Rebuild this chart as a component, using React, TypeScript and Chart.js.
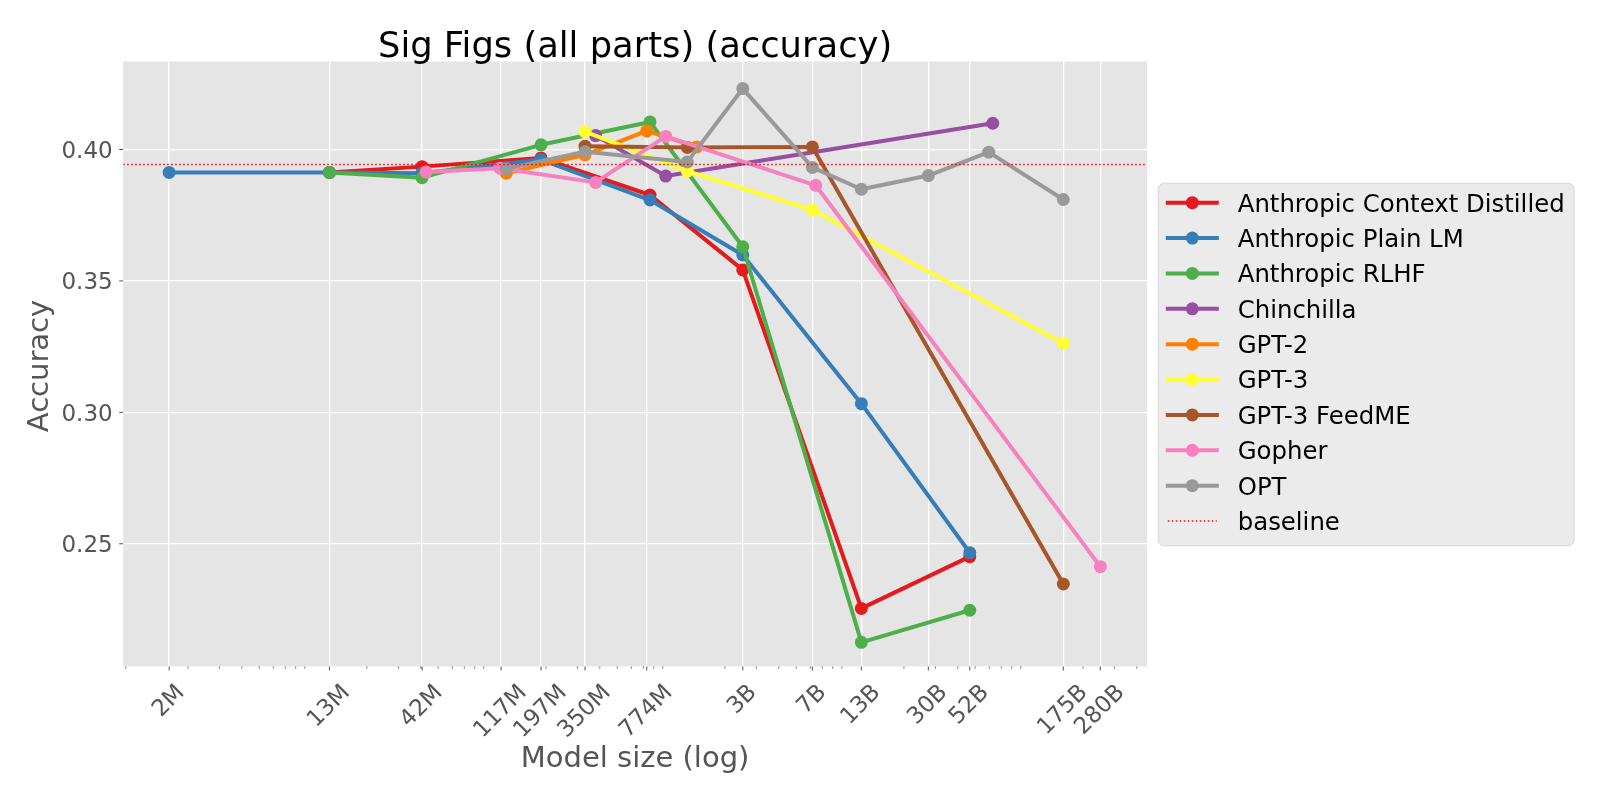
import React, { useEffect, useRef } from "react";
import { Chart, registerables } from "chart.js";

Chart.register(...registerables);

const chartTitle = "Sig Figs (all parts) (accuracy)";
const xAxisTitle = "Model size (log)";
const yAxisTitle = "Accuracy";

// Labelled x ticks (model size in parameters, log axis)
const xTickValues = [1.571e6, 1.235e7, 4.064e7, 1.123e8, 1.878e8, 3.307e8, 7.315e8, 2.516e9, 6.16e9, 1.157e10, 2.738e10, 4.665e10, 1.554e11, 2.502e11];
const xTickLabels = ["2M", "13M", "42M", "117M", "197M", "350M", "774M", "3B", "7B", "13B", "30B", "52B", "175B", "280B"];
const yTickValues = [0.25, 0.3, 0.35, 0.4];
const yTickLabels = ["0.25", "0.30", "0.35", "0.40"];

const xMin = 8.7e5;
const xMax = 4.56e11;
const yMin = 0.2033;
const yMax = 0.4335;

const seriesNames = [
  "Anthropic Context Distilled",
  "Anthropic Plain LM",
  "Anthropic RLHF",
  "Chinchilla",
  "GPT-2",
  "GPT-3",
  "GPT-3 FeedME",
  "Gopher",
  "OPT",
];
const seriesColors = ["#e41a1c", "#377eb8", "#4daf4a", "#984ea3", "#ff7f00", "#ffff33", "#a65628", "#f781bf", "#999999"];

const distilledSizes = [1.235e7, 4.064e7, 1.878e8, 7.63e8, 2.516e9, 1.157e10, 4.665e10];
const distilledAcc = [0.3913, 0.3935, 0.3968, 0.3827, 0.3542, 0.2254, 0.2451];
const plainSizes = [1.571e6, 1.235e7, 4.064e7, 1.878e8, 7.63e8, 2.516e9, 1.157e10, 4.665e10];
const plainAcc = [0.3913, 0.3913, 0.391, 0.3962, 0.3808, 0.3599, 0.3033, 0.2466];
const rlhfSizes = [1.235e7, 4.064e7, 1.878e8, 7.63e8, 2.516e9, 1.157e10, 4.665e10];
const rlhfAcc = [0.3913, 0.3893, 0.4018, 0.4105, 0.363, 0.2125, 0.2247];
const chinchillaSizes = [3.79e8, 9.34e8, 6.27e10];
const chinchillaAcc = [0.4053, 0.3899, 0.41];
const gpt2Sizes = [1.2e8, 3.307e8, 7.315e8, 1.392e9];
const gpt2Acc = [0.391, 0.398, 0.4071, 0.401];
const gpt3Sizes = [3.307e8, 1.233e9, 6.16e9, 1.554e11];
const gpt3Acc = [0.4068, 0.3918, 0.377, 0.3263];
const feedmeSizes = [3.307e8, 1.233e9, 6.16e9, 1.554e11];
const feedmeAcc = [0.4013, 0.4008, 0.401, 0.2347];
const gopherSizes = [4.28e7, 1.108e8, 3.79e8, 9.34e8, 6.43e9, 2.502e11];
const gopherAcc = [0.3915, 0.3929, 0.3875, 0.405, 0.3864, 0.2413];
const optSizes = [1.2e8, 3.307e8, 1.233e9, 2.516e9, 6.16e9, 1.157e10, 2.738e10, 5.955e10, 1.554e11];
const optAcc = [0.3927, 0.3992, 0.3953, 0.4232, 0.3932, 0.3849, 0.3901, 0.399, 0.381];

const baselineLabel = "baseline";
const baselineAcc = 0.3943;

const seriesSizes = [distilledSizes, plainSizes, rlhfSizes, chinchillaSizes, gpt2Sizes, gpt3Sizes, feedmeSizes, gopherSizes, optSizes];
const seriesAcc = [distilledAcc, plainAcc, rlhfAcc, chinchillaAcc, gpt2Acc, gpt3Acc, feedmeAcc, gopherAcc, optAcc];

const FONT = '"DejaVu Sans", "Liberation Sans", sans-serif';
const TEXT_GRAY = "#555555";

export default function App() {
  const ref = useRef<HTMLCanvasElement | null>(null);

  useEffect(() => {
    const canvas = ref.current;
    if (!canvas) return;

    const datasets: any[] = seriesNames.map((name, i) => ({
      label: name,
      data: seriesSizes[i].map((x, j) => ({ x, y: seriesAcc[i][j] })),
      borderColor: seriesColors[i],
      backgroundColor: seriesColors[i],
      pointBackgroundColor: seriesColors[i],
      pointBorderColor: seriesColors[i],
      borderWidth: 4,
      pointRadius: 6.5,
      pointHoverRadius: 6.5,
      pointBorderWidth: 0,
      borderJoinStyle: "round",
      tension: 0,
      order: -i,
    }));
    datasets.push({
      label: baselineLabel,
      data: [
        { x: xMin, y: baselineAcc },
        { x: xMax, y: baselineAcc },
      ],
      borderColor: "#ff0000",
      borderWidth: 1.5,
      borderDash: [1.5, 2.5],
      pointRadius: 0,
      pointHoverRadius: 0,
      tension: 0,
      order: -100,
    });

    const bgPlugin = {
      id: "bg",
      beforeDraw(chart: any) {
        const { ctx, chartArea } = chart;
        ctx.save();
        ctx.fillStyle = "#ffffff";
        ctx.fillRect(0, 0, chart.width, chart.height);
        ctx.fillStyle = "#e5e5e5";
        ctx.fillRect(chartArea.left, chartArea.top, chartArea.right - chartArea.left, chartArea.bottom - chartArea.top);
        ctx.restore();
      },
    };

    const decorPlugin = {
      id: "decor",
      afterDraw(chart: any) {
        const { ctx, chartArea } = chart;
        const xs = chart.scales.x;
        const ys = chart.scales.y;
        ctx.save();

        // tick marks
        ctx.strokeStyle = TEXT_GRAY;
        ctx.lineWidth = 1;
        xTickValues.forEach((v) => {
          const px = xs.getPixelForValue(v);
          ctx.beginPath();
          ctx.moveTo(px, chartArea.bottom);
          ctx.lineTo(px, chartArea.bottom + 4);
          ctx.stroke();
        });
        ctx.lineWidth = 0.8;
        const e0 = Math.floor(Math.log10(xMin));
        const e1 = Math.ceil(Math.log10(xMax));
        for (let e = e0; e <= e1; e++) {
          for (let m = 2; m <= 9; m++) {
            const v = m * Math.pow(10, e);
            if (v < xMin || v > xMax) continue;
            const px = xs.getPixelForValue(v);
            ctx.beginPath();
            ctx.moveTo(px, chartArea.bottom);
            ctx.lineTo(px, chartArea.bottom + 2.2);
            ctx.stroke();
          }
        }
        ctx.lineWidth = 1;
        yTickValues.forEach((v) => {
          const py = ys.getPixelForValue(v);
          ctx.beginPath();
          ctx.moveTo(chartArea.left - 4, py);
          ctx.lineTo(chartArea.left, py);
          ctx.stroke();
        });

        // x tick labels, rotated 45 degrees, centred on the tick
        const tickFont = 23;
        const capT = tickFont * 0.729;
        ctx.font = `${tickFont}px ${FONT}`;
        ctx.fillStyle = TEXT_GRAY;
        ctx.textAlign = "left";
        ctx.textBaseline = "alphabetic";
        xTickValues.forEach((v, i) => {
          const px = xs.getPixelForValue(v);
          const label = xTickLabels[i];
          const w = ctx.measureText(label).width;
          const top = chartArea.bottom + 15;
          const cy = top + ((w + capT) * Math.SQRT1_2) / 2;
          ctx.save();
          ctx.translate(px - 2, cy);
          ctx.rotate(-Math.PI / 4);
          ctx.fillText(label, -w / 2, capT / 2);
          ctx.restore();
        });

        // y tick labels
        ctx.textAlign = "right";
        yTickValues.forEach((v, i) => {
          const py = ys.getPixelForValue(v);
          ctx.fillText(yTickLabels[i], chartArea.left - 10.5, py + capT / 2);
        });

        // axis titles
        const axFont = 29;
        ctx.font = `${axFont}px ${FONT}`;
        ctx.textAlign = "center";
        ctx.fillText(xAxisTitle, (chartArea.left + chartArea.right) / 2, chartArea.bottom + 100.2);
        ctx.save();
        ctx.translate(47.5, (chartArea.top + chartArea.bottom) / 2 + 2);
        ctx.rotate(-Math.PI / 2);
        ctx.fillText(yAxisTitle, 0, 0);
        ctx.restore();

        // title
        ctx.font = `35.3px ${FONT}`;
        ctx.fillStyle = "#000000";
        ctx.fillText(chartTitle, (chartArea.left + chartArea.right) / 2, chartArea.top - 4.8);

        // legend
        const lx = chartArea.right + 11.3;
        const ly = 183.3;
        const lw = 415.7;
        const lh = 362.4;
        ctx.beginPath();
        ctx.roundRect(lx, ly, lw, lh, 6);
        ctx.fillStyle = "#ebebeb";
        ctx.fill();
        ctx.strokeStyle = "rgba(210,210,210,0.9)";
        ctx.lineWidth = 1;
        ctx.stroke();

        const rowH = 35.37;
        const row0 = ly + 19.4;
        const lineX0 = lx + 7.5;
        const lineX1 = lx + 60.5;
        const textX = lx + 79.4;
        const legFont = 24.4;
        ctx.font = `${legFont}px ${FONT}`;
        ctx.textAlign = "left";
        seriesNames.forEach((name, i) => {
          const cy = row0 + i * rowH;
          ctx.strokeStyle = seriesColors[i];
          ctx.lineWidth = 4;
          ctx.setLineDash([]);
          ctx.beginPath();
          ctx.moveTo(lineX0, cy);
          ctx.lineTo(lineX1, cy);
          ctx.stroke();
          ctx.fillStyle = seriesColors[i];
          ctx.beginPath();
          ctx.arc((lineX0 + lineX1) / 2, cy, 6.5, 0, Math.PI * 2);
          ctx.fill();
          ctx.fillStyle = "#000000";
          ctx.fillText(name, textX, cy + (legFont * 0.729) / 2);
        });
        const bcy = row0 + seriesNames.length * rowH;
        ctx.strokeStyle = "#ff0000";
        ctx.lineWidth = 1.5;
        ctx.setLineDash([1.5, 2.5]);
        ctx.beginPath();
        ctx.moveTo(lineX0 + 2, bcy);
        ctx.lineTo(lineX1 - 2, bcy);
        ctx.stroke();
        ctx.setLineDash([]);
        ctx.fillStyle = "#000000";
        ctx.fillText(baselineLabel, textX, bcy + (legFont * 0.729) / 2);

        ctx.restore();
      },
    };

    const chart = new Chart(canvas, {
      type: "line",
      data: { datasets },
      options: {
        animation: false,
        responsive: false,
        devicePixelRatio: 1,
        events: [],
        layout: { padding: { left: 0, top: 61.5, right: 453, bottom: 0 }, autoPadding: false },
        plugins: {
          legend: { display: false },
          title: { display: false },
          tooltip: { enabled: false },
        },
        scales: {
          x: {
            type: "logarithmic",
            min: xMin,
            max: xMax,
            bounds: "data",
            afterBuildTicks: (axis: any) => {
              axis.ticks = xTickValues.map((v) => ({ value: v }));
            },
            afterFit: (axis: any) => {
              axis.height = 133.5;
            },
            ticks: { display: false },
            grid: { color: "#ffffff", lineWidth: 1.3, drawTicks: false },
            border: { display: false },
          },
          y: {
            type: "linear",
            min: yMin,
            max: yMax,
            afterBuildTicks: (axis: any) => {
              axis.ticks = yTickValues.map((v) => ({ value: v }));
            },
            afterFit: (axis: any) => {
              axis.width = 123.2;
            },
            ticks: { display: false },
            grid: { color: "#ffffff", lineWidth: 1.3, drawTicks: false },
            border: { display: false },
          },
        },
      } as any,
      plugins: [bgPlugin, decorPlugin],
    });

    return () => chart.destroy();
  }, []);

  return (
    <div style={{ position: "absolute", left: 0, top: 0, width: 1600, height: 800, background: "#ffffff" }}>
      <canvas ref={ref} width={1600} height={800} style={{ display: "block", width: 1600, height: 800 }} />
    </div>
  );
}
